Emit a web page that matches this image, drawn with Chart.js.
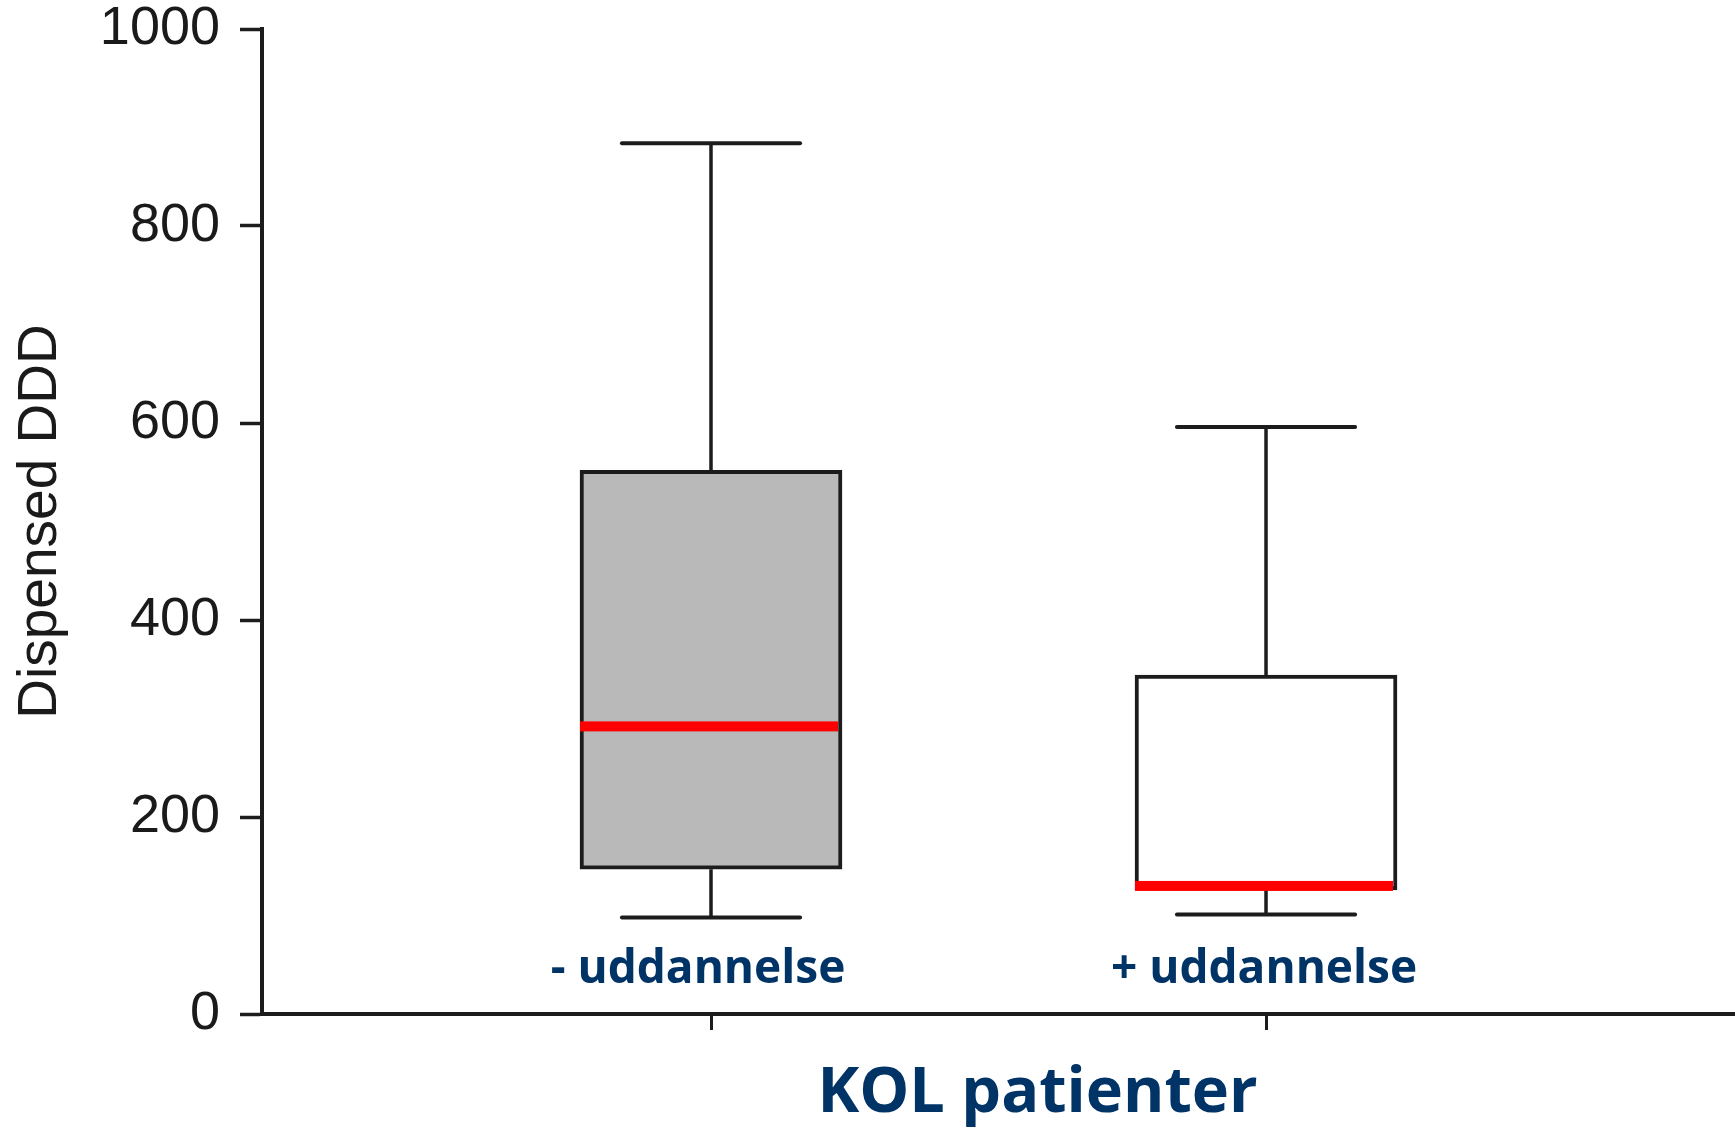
<!DOCTYPE html>
<html>
<head>
<meta charset="utf-8">
<script src="https://cdn.jsdelivr.net/npm/chart.js@4.4.1/dist/chart.umd.min.js"></script>
<style>
  html, body { margin: 0; padding: 0; background: #ffffff; }
  #wrap { width: 1735px; height: 1130px; }
</style>
</head>
<body>
<div id="wrap"><canvas id="c" width="1735" height="1130"></canvas></div>
<script>
// ---- Data ----
const categories = ['- uddannelse', '+ uddannelse'];
const positions  = [1, 2];
const whiskerMin = [98, 101];
const q1Values   = [147, 126];
const medians    = [292, 130];
const q3Values   = [552, 344];
const whiskerMax = [884, 596];
const yTicks     = [0, 200, 400, 600, 800, 1000];
const xTitle     = 'KOL patienter';
const yTitle     = 'Dispensed DDD';

const boxFill    = ['#b9b9b9', '#ffffff'];
const lineCol    = '#1c1c1c';
const navy       = '#003366';
const labelShift = [-13, -2];

const boxData = positions.map((p, i) => ({ x: p, y: [q1Values[i], q3Values[i]] }));

const boxPlotPlugin = {
  id: 'boxPlotExtras',
  afterDatasetsDraw(chart) {
    const ctx = chart.ctx;
    const xs = chart.scales.x, ys = chart.scales.y;
    const meta = chart.getDatasetMeta(0);
    ctx.save();
    positions.forEach((p, i) => {
      const cx = xs.getPixelForValue(p);
      const bar = meta.data[i];
      const half = bar.width / 2;
      const capHalf = half * 0.68;
      ctx.strokeStyle = lineCol;
      ctx.lineWidth = 3.5;
      ctx.lineCap = 'butt';
      // upper whisker
      ctx.beginPath();
      ctx.moveTo(cx, ys.getPixelForValue(q3Values[i]));
      ctx.lineTo(cx, ys.getPixelForValue(whiskerMax[i]));
      ctx.stroke();
      // lower whisker
      ctx.beginPath();
      ctx.moveTo(cx, ys.getPixelForValue(q1Values[i]));
      ctx.lineTo(cx, ys.getPixelForValue(whiskerMin[i]));
      ctx.stroke();
      // caps
      ctx.lineWidth = 4;
      ctx.lineCap = 'round';
      [whiskerMax[i], whiskerMin[i]].forEach(v => {
        const y = ys.getPixelForValue(v);
        ctx.beginPath();
        ctx.moveTo(cx - capHalf, y);
        ctx.lineTo(cx + capHalf, y);
        ctx.stroke();
      });
      // median
      const my = ys.getPixelForValue(medians[i]);
      ctx.fillStyle = '#ff0000';
      ctx.fillRect(cx - half, my - 5, half * 2 - 4, 10);
    });
    // category labels (drawn above the axis, as in the reference)
    ctx.fillStyle = navy;
    ctx.font = 'bold 46px "Open Sans"';
    ctx.textAlign = 'center';
    ctx.textBaseline = 'alphabetic';
    const area = chart.chartArea;
    positions.forEach((p, i) => {
      ctx.fillText(categories[i], xs.getPixelForValue(p) + labelShift[i], area.bottom - 31);
    });
    // x axis title
    ctx.font = 'bold 63px "Open Sans"';
    ctx.fillText(xTitle, (area.left + area.right) / 2 + 39, area.bottom + 98);
    ctx.restore();
  }
};

new Chart(document.getElementById('c'), {
  type: 'bar',
  data: {
    datasets: [{
      data: boxData,
      backgroundColor: boxFill,
      borderColor: lineCol,
      borderWidth: 4,
      borderSkipped: false,
      barThickness: 262,
      grouped: false
    }]
  },
  options: {
    responsive: false,
    animation: false,
    events: [],
    layout: { padding: { top: 29, right: 0, bottom: 0, left: 0 } },
    plugins: { legend: { display: false }, tooltip: { enabled: false } },
    scales: {
      x: {
        type: 'linear',
        offset: false,
        min: 0.191,
        max: 2.845,
        afterBuildTicks: (s) => { s.ticks = positions.map(v => ({ value: v })); },
        afterFit: (s) => { s.height = 116; },
        ticks: { display: false },
        grid: {
          display: true, offset: false, drawOnChartArea: false, drawTicks: true,
          tickLength: 16, tickWidth: 3, tickColor: lineCol
        },
        border: { display: true, color: lineCol, width: 4 }
      },
      y: {
        type: 'linear',
        min: 0,
        max: 1000,
        afterBuildTicks: (s) => { s.ticks = yTicks.map(v => ({ value: v })); },
        afterFit: (s) => { s.width = 262; },
        ticks: {
          color: '#1a1a1a',
          padding: 20,
          callback: (v) => String(v),
          font: { family: '"Liberation Sans", Arial, sans-serif', size: 54, lineHeight: 0.3 }
        },
        grid: {
          display: true, drawOnChartArea: false, drawTicks: true,
          tickLength: 22, tickWidth: 3.5, tickColor: lineCol
        },
        border: { display: true, color: lineCol, width: 4 },
        title: {
          display: true,
          text: yTitle,
          color: '#1a1a1a',
          padding: { top: 8, bottom: 0 },
          font: { family: '"Liberation Sans", Arial, sans-serif', size: 55 }
        }
      }
    }
  },
  plugins: [boxPlotPlugin]
});
</script>
</body>
</html>
